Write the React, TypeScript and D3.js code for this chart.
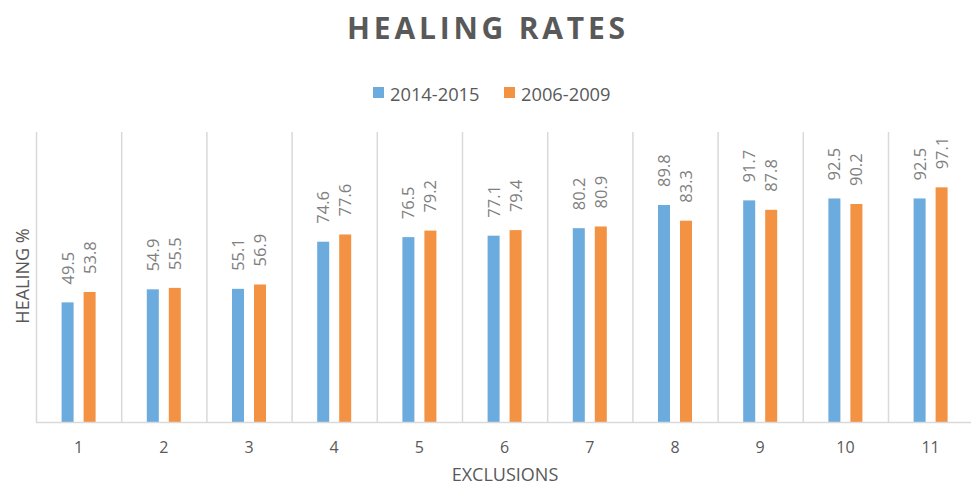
import React from 'react';
import * as d3 from 'd3';

// chart data
const categories = ['1', '2', '3', '4', '5', '6', '7', '8', '9', '10', '11'];
const seriesNames = ['2014-2015', '2006-2009'];
const values2014 = [49.5, 54.9, 55.1, 74.6, 76.5, 77.1, 80.2, 89.8, 91.7, 92.5, 92.5];
const values2006 = [53.8, 55.5, 56.9, 77.6, 79.2, 79.4, 80.9, 83.3, 87.8, 90.2, 97.1];
const colors = ['#6CABDD', '#F39242'];

const W = 971, H = 487;
const FONT = "'Open Sans', 'Noto Sans', sans-serif";

function App() {
    const margin = { top: 132, left: 36, bottom: 65 };
    const plotRight = 973.2;
    const baseY = H - margin.bottom;

    // x band per category, gridlines on band edges
    const x = d3.scaleBand<string>()
        .domain(categories)
        .range([margin.left, plotRight])
        .padding(0);

    // inner band for the two series inside each category
    const xs = d3.scaleBand<string>()
        .domain(seriesNames)
        .range([-17, 17])
        .paddingInner(10 / 22)
        .paddingOuter(0);

    const y = d3.scaleLinear()
        .domain([0, 120])
        .range([baseY, margin.top]);

    const series = [values2014, values2006];

    return (
        <svg width={W} height={H} style={{ position: 'absolute', left: 0, top: 0, background: '#fff' }} fontFamily={FONT}>
            {/* title */}
            <text x={488} y={39} textAnchor="middle" fontSize={30} fontWeight="bold" fill="#595959" letterSpacing={3.8}>
                HEALING RATES
            </text>

            {/* legend */}
            {seriesNames.map((s, i) => {
                const lx = i === 0 ? 373 : 504;
                return (
                    <g key={s}>
                        <rect x={lx} y={87} width={11} height={11} fill={colors[i]} />
                        <text x={lx + 17} y={101} fontSize={18.3} fill="#595959">{s}</text>
                    </g>
                );
            })}

            {/* vertical gridlines */}
            {categories.map((c) => (
                <line key={'g' + c} x1={x(c)! + 0.5} x2={x(c)! + 0.5} y1={margin.top} y2={baseY}
                    stroke="#d9d9d9" strokeWidth={1.5} />
            ))}

            {/* bars */}
            {series.map((vals, si) =>
                vals.map((v, i) => {
                    const cx = x(categories[i])! + x.bandwidth() / 2;
                    const bx = cx + xs(seriesNames[si])!;
                    return (
                        <rect key={si + '-' + i} x={bx} y={y(v)} width={xs.bandwidth()} height={baseY - y(v)}
                            fill={colors[si]} />
                    );
                })
            )}

            {/* data labels */}
            {series.map((vals, si) =>
                vals.map((v, i) => {
                    const cx = x(categories[i])! + x.bandwidth() / 2;
                    const lx = cx + xs(seriesNames[si])! + xs.bandwidth() / 2 + 6;
                    const ly = y(v) - 18;
                    return (
                        <text key={'l' + si + '-' + i} transform={`translate(${lx},${ly}) rotate(-90)`}
                            fontSize={16.5} fill="#7f7f7f">{v.toFixed(1)}</text>
                    );
                })
            )}

            {/* x axis line */}
            <line x1={margin.left} x2={plotRight} y1={baseY + 0.5} y2={baseY + 0.5} stroke="#d9d9d9" strokeWidth={1.5} />

            {/* x tick labels */}
            {categories.map((c) => (
                <text key={'t' + c} x={x(c)! + x.bandwidth() / 2} y={453} textAnchor="middle" fontSize={16} fill="#595959">{c}</text>
            ))}

            {/* axis titles */}
            <text x={505} y={481} textAnchor="middle" fontSize={18} fill="#595959">EXCLUSIONS</text>
            <text transform="translate(29,276) rotate(-90)" textAnchor="middle" fontSize={18} fill="#595959">HEALING %</text>
        </svg>
    );
}

export default App;
